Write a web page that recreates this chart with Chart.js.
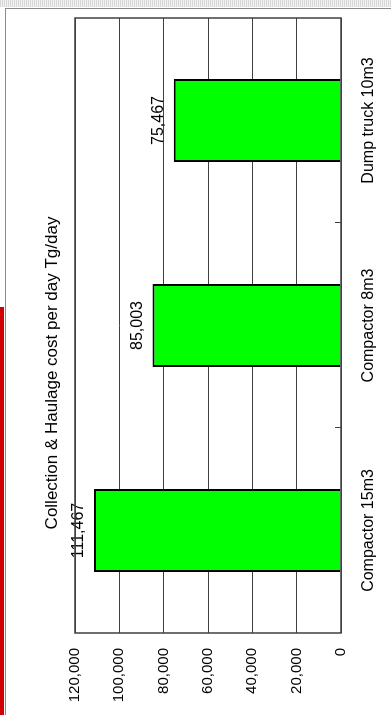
<!DOCTYPE html>
<html>
<head>
<meta charset="utf-8">
<script src="https://cdn.jsdelivr.net/npm/chart.js@4.4.1/dist/chart.umd.min.js"></script>
<style>
    html, body { margin: 0; padding: 0; background: #fff; width: 391px; height: 715px; overflow: hidden; }
    #top-strip { position: absolute; left: 0; top: 0; width: 391px; height: 7px;
        background: repeating-linear-gradient(90deg, #d8d8d8 0 1px, #f2f2f2 1px 2px); }
    #red-strip { position: absolute; left: 0; top: 307px; width: 4px; height: 408px; background: #d20000; }
    #frame { position: absolute; left: 5px; top: 8px; width: 386px; height: 707px;
        border-left: 1px solid #8a8a8a; border-top: 1px solid #8a8a8a; box-sizing: border-box; }
    /* Das Diagramm wird normal gezeichnet und danach um 90 Grad gedreht */
    #rotated { position: absolute; left: 0; top: 0; width: 715px; height: 391px;
        transform-origin: 0 0; transform: translateY(715px) rotate(-90deg); }
</style>
</head>
<body>
<div id="top-strip"></div>
<div id="red-strip"></div>
<div id="frame"></div>
<div id="rotated"><canvas id="cost-chart" width="715" height="391"></canvas></div>
<script>
// Daten
var categories = ["Compactor 15m3", "Compactor 8m3", "Dump truck 10m3"],
    costPerDay = [111467, 85003, 75467],
    valueTicks = [0, 20000, 40000, 60000, 80000, 100000, 120000],
    chartTitle = "Collection & Haulage cost per day Tg/day";

var FONT = "'Liberation Sans', Arial, sans-serif",
    LINE_COLOR = "#404040";

function formatNumber(value) {
    return value.toLocaleString("en-US");
}

// Rahmen um die Plotfläche und kleine Striche zwischen den Kategorien
var plotFramePlugin = {
    id: "plotFrame",
    afterDraw: function(chart) {
        var ctx = chart.ctx,
            area = chart.chartArea,
            xScale = chart.scales.x,
            x, i;
        ctx.save();
        ctx.strokeStyle = LINE_COLOR;
        ctx.lineWidth = 1.5;
        ctx.strokeRect(area.left, area.top, area.right - area.left, area.bottom - area.top);
        ctx.lineWidth = 1;
        for (i = 0; i < categories.length - 1; i++) {
            x = Math.round((xScale.getPixelForValue(i) + xScale.getPixelForValue(i + 1)) / 2) + 0.5;
            ctx.beginPath();
            ctx.moveTo(x, area.bottom);
            ctx.lineTo(x, area.bottom - 6);
            ctx.stroke();
        }
        ctx.restore();
    }
};

// Werte über den Balken
var valueLabelPlugin = {
    id: "valueLabels",
    afterDatasetsDraw: function(chart) {
        var ctx = chart.ctx,
            bars = chart.getDatasetMeta(0).data;
        ctx.save();
        ctx.fillStyle = "#000";
        ctx.font = "16px " + FONT;
        ctx.textAlign = "center";
        ctx.textBaseline = "alphabetic";
        bars.forEach(function(bar, i) {
            ctx.fillText(formatNumber(costPerDay[i]), bar.x, bar.y - 11);
        });
        ctx.restore();
    }
};

// Titel
var titlePlugin = {
    id: "plainTitle",
    afterDraw: function(chart) {
        var ctx = chart.ctx;
        ctx.save();
        ctx.fillStyle = "#000";
        ctx.font = "17px " + FONT;
        ctx.textAlign = "center";
        ctx.textBaseline = "alphabetic";
        ctx.fillText(chartTitle, 342, 57);
        ctx.restore();
    }
};

var config = {
    type: "bar",
    data: {
        labels: categories,
        datasets: [{
            data: costPerDay,
            backgroundColor: "#00ff00",
            borderColor: "#000",
            borderWidth: 2,
            barPercentage: 0.405,
            categoryPercentage: 1
        }]
    },
    options: {
        responsive: false,
        animation: false,
        devicePixelRatio: 1,
        layout: { padding: { top: 75, right: 18, bottom: 0, left: 0 } },
        plugins: { legend: { display: false }, title: { display: false }, tooltip: { enabled: false } },
        scales: {
            x: {
                grid: { display: false },
                border: { display: false },
                ticks: { color: "#000", font: { family: FONT, size: 16 }, padding: 10, maxRotation: 0, minRotation: 0 },
                afterFit: function(scale) { scale.height = 50; }
            },
            y: {
                min: 0,
                max: 120000,
                grid: { color: LINE_COLOR, lineWidth: 1, drawTicks: false },
                border: { display: false },
                ticks: {
                    color: "#000",
                    font: { family: FONT, size: 15 },
                    padding: 15,
                    callback: function(value) { return formatNumber(value); }
                },
                afterBuildTicks: function(scale) {
                    scale.ticks = valueTicks.map(function(v) { return { value: v }; });
                },
                afterFit: function(scale) { scale.width = 82; }
            }
        }
    },
    plugins: [valueLabelPlugin, plotFramePlugin, titlePlugin]
};

new Chart(document.querySelector("#cost-chart"), config);
</script>
</body>
</html>
